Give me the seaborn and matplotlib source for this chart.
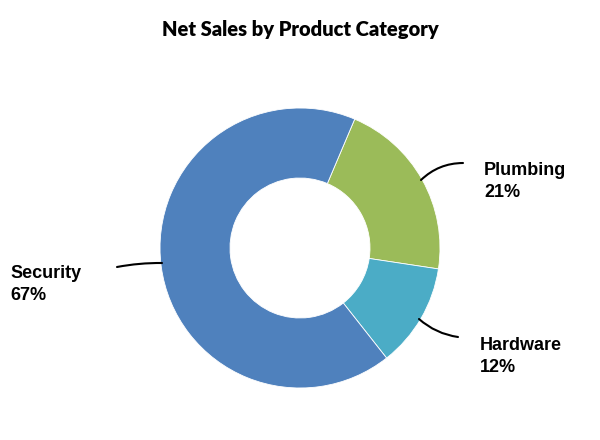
import matplotlib
matplotlib.use("Agg")
import matplotlib.pyplot as plt
import seaborn as sns

categories = ["Plumbing", "Hardware", "Security"]
shares = [21, 12, 67]
colors = ["#9BBB59", "#4BACC6", "#4F81BD"]
title = "Net Sales by Product Category"

sns.set_theme(style="white")
plt.rcParams['font.family'] = ['Liberation Sans', 'DejaVu Sans']

W, H = 600, 440
CX, CY, R = 300, 248, 140

def d(px, py):
    return ((px - CX) / R, (CY - py) / R)

fig = plt.figure(figsize=(6, 4.4), dpi=100)
ax = fig.add_axes([0, 0, 1, 1])
wedges, _ = ax.pie(shares, colors=colors, startangle=67, counterclock=False,
                   radius=1.0, wedgeprops=dict(width=0.5, edgecolor="white", linewidth=0.6))
ax.set_xlim(-CX / R, (W - CX) / R)
ax.set_ylim(-(H - CY) / R, CY / R)
ax.set_aspect('equal')
ax.axis('off')

# labels
label_pos = {"Plumbing": (484, 162), "Hardware": (480, 337), "Security": (10, 265)}
lines = {"Plumbing": ((421, 180), (463, 163), 0.2),
         "Hardware": ((419, 319), (458, 337), -0.15),
         "Security": ((162, 263), (117, 267), -0.05)}
for cat, val in zip(categories, shares):
    x, y = d(*label_pos[cat])
    ax.text(x, y, f"{cat}\n{val}%", ha='left', va='top', fontsize=13,
            fontweight='bold', color='black', linespacing=1.4)
    (p0, p1, rad) = lines[cat]
    ax.annotate("", xy=d(*p0), xytext=d(*p1),
                arrowprops=dict(arrowstyle='-', color='black', lw=1.5,
                                connectionstyle=f"arc3,rad={rad}",
                                shrinkA=0, shrinkB=0))

tx, ty = d(300, 30)
ax.text(tx, ty, title, ha='center', va='center', fontsize=14.5, fontweight='heavy',
        family=['Lato', 'DejaVu Sans'], color='black')

fig.savefig("out.png", dpi=100)
